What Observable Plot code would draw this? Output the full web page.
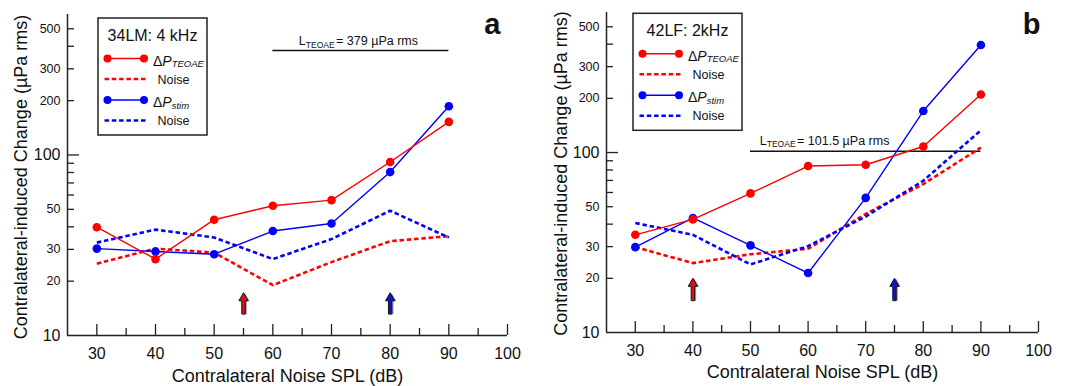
<!DOCTYPE html>
<html>
<head>
<meta charset="utf-8">
<script src="https://cdn.jsdelivr.net/npm/d3@7"></script>
<script src="https://cdn.jsdelivr.net/npm/@observablehq/plot@0.6"></script>
<style>
  body { margin: 0; background: #fff; }
  #wrap { position: relative; width: 1069px; height: 386px; overflow: hidden; font-family: "Liberation Sans", Arial, sans-serif; }
  .panel { position: absolute; top: 0; }
  #overlay { position: absolute; left: 0; top: 0; pointer-events: none; }
</style>
</head>
<body>
<div id="wrap"></div>
<script>
// ---------- data ----------
const spl = [30, 40, 50, 60, 70, 80, 90];

// panel a (34LM: 4 kHz)
const teoaeA      = [39.8, 26.5, 43.8, 52.3, 56.2, 91.4, 152.5];
const stimA       = [30.3, 29.2, 28.2, 37.9, 41.7, 80.4, 186];
const teoaeNoiseA = [25.0, 30.3, 28.8, 19.0, 25.5, 33.3, 35.5];
const stimNoiseA  = [32.7, 38.6, 34.9, 26.5, 34.2, 49.1, 34.9];
const refLevelA = 379;
const refSpanA = [60, 90];
const refTextA = "= 379 µPa rms";
const arrowXA = [55, 80];
const arrowBaseA = 13.2;
const titleA = "34LM: 4 kHz";
const letterA = "a";

// panel b (42LF: 2kHz)
const teoaeB      = [34.9, 42.5, 59.3, 84.1, 85.5, 108, 210];
const stimB       = [29.8, 43.3, 30.5, 21.4, 56.0, 170, 396];
const teoaeNoiseB = [29.8, 24.3, 27.2, 29.2, 45.6, 66.8, 106.6];
const stimNoiseB  = [40.6, 34.9, 23.9, 30.2, 44.1, 69.7, 133];
const refLevelB = 101.5;
const refSpanB = [50, 90];
const refTextB = "= 101.5 µPa rms";
const arrowXB = [40, 75];
const arrowBaseB = 15.1;
const titleB = "42LF: 2kHz";
const letterB = "b";

// axes
const xDomain = [25, 100];
const yDomain = [10, 600];
const xMajorTicks = [30, 40, 50, 60, 70, 80, 90, 100];
const xMinorTicks = [35, 45, 55, 65, 75, 85, 95];
const yMinorTicks = [20, 30, 40, 50, 60, 70, 80, 90, 200, 300, 400, 500];
const yMajorTicks = [100];
const yLabelsBig = [10, 100];
const yLabelsSmall = [20, 30, 50, 200, 300, 500];
const xTitle = "Contralateral Noise SPL (dB)";
const yTitle = "Contralateral-induced Change (µPa rms)";
const refSub = "TEOAE";

const RED = "#ff0000", BLUE = "#0000ff", AXIS = "#222";
const FONT = "Liberation Sans, Arial, sans-serif";
const DASH = "4.5,2.8";

const blockArrow = {
  draw(ctx, l) {
    const h = 8, w = 4.6, s = 1.7;
    ctx.moveTo(-s, 0);
    ctx.lineTo(-s, -(l - h));
    ctx.lineTo(-w, -(l - h));
    ctx.lineTo(0, -l);
    ctx.lineTo(w, -(l - h));
    ctx.lineTo(s, -(l - h));
    ctx.lineTo(s, 0);
    ctx.closePath();
  }
};

function panel(cfg) {
  const xs = (d, i) => spl[i];
  const ys = d => d;
  const chart = Plot.plot({
    width: cfg.width, height: 386,
    marginLeft: cfg.ml, marginRight: cfg.mr, marginTop: cfg.mt, marginBottom: cfg.mb,
    style: { fontFamily: FONT, background: "transparent", overflow: "visible", color: "#111" },
    x: { domain: xDomain },
    y: { type: "log", domain: yDomain },
    marks: [
      // axis lines
      Plot.ruleX([xDomain[0]], { stroke: AXIS, strokeWidth: 1.5 }),
      Plot.ruleY([yDomain[0]], { stroke: AXIS, strokeWidth: 1.5 }),
      // ticks (inward)
      Plot.axisX(xMajorTicks, { tickSize: 11, dy: -11, text: null, stroke: AXIS, strokeWidth: 1.3, label: null }),
      Plot.axisX(xMinorTicks, { tickSize: 7, dy: -7, text: null, stroke: AXIS, strokeWidth: 1.3, label: null }),
      Plot.axisY(yMinorTicks, { tickSize: 7, dx: 7, text: null, stroke: AXIS, strokeWidth: 1.3, label: null }),
      Plot.axisY(yMajorTicks, { tickSize: 12, dx: 12, text: null, stroke: AXIS, strokeWidth: 1.3, label: null }),
      // tick labels
      Plot.axisX(xMajorTicks, { tickSize: 0, tickPadding: 12, fontSize: 16, tickFormat: d => String(d), label: null, fill: "#111" }),
      Plot.axisY(yLabelsSmall, { tickSize: 0, tickPadding: 7, fontSize: 12.5, tickFormat: d => String(d), label: null, fill: "#111" }),
      Plot.axisY(yLabelsBig, { tickSize: 0, tickPadding: 7, fontSize: 16, tickFormat: d => String(d), label: null, fill: "#111" }),
      // titles
      Plot.text([xTitle], { text: d => d, frameAnchor: "bottom", textAnchor: "middle", lineAnchor: "bottom", dy: cfg.xTitleDy, fontSize: 18, fill: "#111" }),
      Plot.text([yTitle], { text: d => d, frameAnchor: "left", textAnchor: "middle", rotate: -90, lineAnchor: "bottom", dx: cfg.yTitleDx, dy: cfg.yTitleDy, fontSize: 18, fill: "#111" }),
      Plot.text([cfg.letter], { text: d => d, frameAnchor: "top-right", textAnchor: "end", lineAnchor: "bottom", dx: cfg.letterDx, dy: cfg.letterDy, fontSize: 29, fontWeight: "bold", fill: "#111" }),
      // reference line + label
      Plot.ruleY([cfg.ref], { x1: cfg.refSpan[0], x2: cfg.refSpan[1], stroke: "#111", strokeWidth: 1.5 }),
      Plot.text([cfg.refText], { x: cfg.refSpan[0], y: cfg.ref, text: d => "L\u2063" + refSub + "\u2063" + d, textAnchor: "start", lineAnchor: "bottom", dx: cfg.refDx, dy: cfg.refDy, fontSize: 12.5, fill: "#111" }),
      // noise lines (dashed)
      Plot.line(cfg.teoaeNoise, { x: xs, y: ys, stroke: RED, strokeWidth: 2.6, strokeDasharray: DASH, strokeLinecap: "butt", strokeLinejoin: "miter" }),
      Plot.line(cfg.stimNoise, { x: xs, y: ys, stroke: BLUE, strokeWidth: 2.6, strokeDasharray: DASH, strokeLinecap: "butt", strokeLinejoin: "miter" }),
      // measured lines
      Plot.line(cfg.stim, { x: xs, y: ys, stroke: BLUE, strokeWidth: 1.4 }),
      Plot.dot(cfg.stim, { x: xs, y: ys, r: 4.3, fill: BLUE }),
      Plot.line(cfg.teoae, { x: xs, y: ys, stroke: RED, strokeWidth: 1.4 }),
      Plot.dot(cfg.teoae, { x: xs, y: ys, r: 4.3, fill: RED }),
      // arrows (shadow + arrow)
      Plot.vector(cfg.arrowX, { x: d => d, y: () => cfg.arrowBase, anchor: "start", length: cfg.arrowLen, shape: blockArrow, fill: "#9a9a9a", stroke: "none", dx: 1.6, dy: 0.5 }),
      Plot.vector([cfg.arrowX[0]], { x: d => d, y: () => cfg.arrowBase, anchor: "start", length: cfg.arrowLen, shape: blockArrow, fill: "#e0101c", stroke: "#111", strokeWidth: 1 }),
      Plot.vector([cfg.arrowX[1]], { x: d => d, y: () => cfg.arrowBase, anchor: "start", length: cfg.arrowLen, shape: blockArrow, fill: "#1010d8", stroke: "#111", strokeWidth: 1 })
    ]
  });
  // rich text for L_TEOAE label
  d3.select(chart).selectAll("text").filter(function () { return this.textContent.includes("\u2063"); })
    .each(function () {
      const parts = this.textContent.split("\u2063");
      const t = d3.select(this);
      t.text(null);
      t.append("tspan").text(parts[0]);
      t.append("tspan").attr("font-size", 8.5).attr("dy", 2.5).text(parts[1]);
      t.append("tspan").attr("dy", -2.5).attr("dx", 1.5).text(parts[2]);
    });
  return chart;
}

const wrap = document.getElementById("wrap");

const panelA = panel({
  width: 530, ml: 67, mr: 23, mt: 14, mb: 51,
  teoae: teoaeA, stim: stimA, teoaeNoise: teoaeNoiseA, stimNoise: stimNoiseA,
  ref: refLevelA, refSpan: refSpanA, refText: refTextA, refDx: 26, refDy: -5.5,
  arrowX: arrowXA, arrowBase: arrowBaseA, arrowLen: 21,
  letter: letterA, letterDx: -7, letterDy: 19.5,
  xTitleDy: 46, yTitleDx: -40.3, yTitleDy: 2
});
const divA = document.createElement("div");
divA.className = "panel"; divA.style.left = "0px";
divA.appendChild(panelA);
wrap.appendChild(divA);

const panelB = panel({
  width: 539, ml: 76, mr: 31, mt: 12, mb: 54,
  teoae: teoaeB, stim: stimB, teoaeNoise: teoaeNoiseB, stimNoise: stimNoiseB,
  ref: refLevelB, refSpan: refSpanB, refText: refTextB, refDx: 9.3, refDy: -6.5,
  arrowX: arrowXB, arrowBase: arrowBaseB, arrowLen: 22,
  letter: letterB, letterDx: 2, letterDy: 21,
  xTitleDy: 45, yTitleDx: -39.3, yTitleDy: 1
});
const divB = document.createElement("div");
divB.className = "panel"; divB.style.left = "530px";
divB.appendChild(panelB);
wrap.appendChild(divB);

// ---------- legends (overlay) ----------
const legendRows = [
  { color: RED, dashed: false, main: "\u0394", ital: "P", sub: "TEOAE" },
  { color: RED, dashed: true, main: "Noise" },
  { color: BLUE, dashed: false, main: "\u0394", ital: "P", sub: "stim" },
  { color: BLUE, dashed: true, main: "Noise" }
];
const overlay = d3.select(wrap).append("svg").attr("id", "overlay")
  .attr("width", 1069).attr("height", 386).style("font-family", FONT);

function legend(x0, y0, title) {
  const g = overlay.append("g").attr("transform", `translate(${x0},${y0})`);
  g.append("rect").attr("x", 0).attr("y", 0).attr("width", 109).attr("height", 117)
    .attr("fill", "white").attr("stroke", "#222").attr("stroke-width", 1.5);
  g.append("text").attr("x", 54.5).attr("y", 22.5).attr("text-anchor", "middle")
    .attr("font-size", 16).attr("fill", "#111").text(title);
  const rowY = [40.5, 61, 82, 102.5];
  legendRows.forEach((r, i) => {
    const y = rowY[i];
    if (r.dashed) {
      g.append("line").attr("x1", 6.5).attr("x2", 47.5).attr("y1", y).attr("y2", y)
        .attr("stroke", r.color).attr("stroke-width", 2.6).attr("stroke-dasharray", DASH);
      g.append("text").attr("x", 59.5).attr("y", y + 4.5).attr("font-size", 12.5).attr("fill", "#111").text(r.main);
    } else {
      g.append("line").attr("x1", 9.5).attr("x2", 46).attr("y1", y).attr("y2", y)
        .attr("stroke", r.color).attr("stroke-width", 1.4);
      g.append("circle").attr("cx", 9.5).attr("cy", y).attr("r", 4).attr("fill", r.color);
      g.append("circle").attr("cx", 46).attr("cy", y).attr("r", 4).attr("fill", r.color);
      const t = g.append("text").attr("x", 55).attr("y", y + 7).attr("font-size", 14).attr("fill", "#111");
      t.append("tspan").text(r.main);
      t.append("tspan").attr("font-style", "italic").text(r.ital);
      t.append("tspan").attr("font-style", "italic").attr("font-size", 9.5).attr("dy", 1.5).text(r.sub);
    }
  });
}
legend(98, 18, titleA);
legend(633, 13.3, titleB);
</script>
</body>
</html>
